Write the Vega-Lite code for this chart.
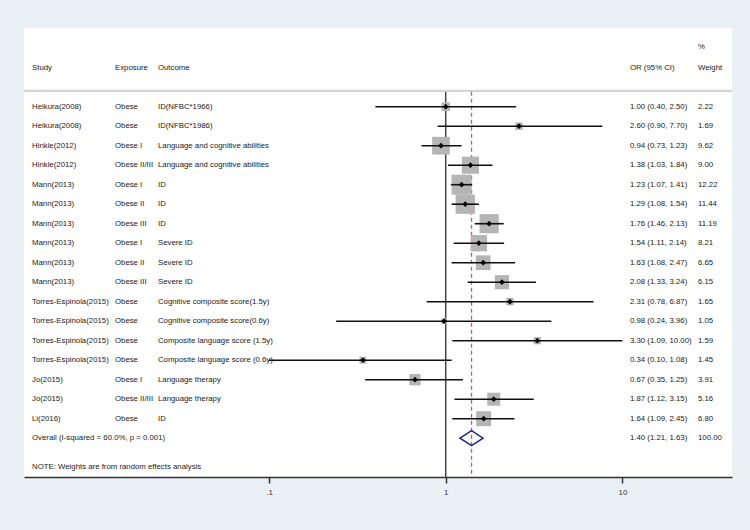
{
  "$schema": "https://vega.github.io/schema/vega-lite/v6.json",
  "autosize": {"type": "none"},
  "width": 708,
  "height": 449,
  "padding": {"left": 24, "top": 28, "right": 18, "bottom": 53},
  "background": "#e9f1f4",
  "view": {"fill": "white", "stroke": null},
  "config": {
    "text": {"font": "Liberation Sans", "fontSize": 7.8, "color": "#222222", "align": "left", "baseline": "middle"},
    "axis": {"labelFont": "Liberation Sans"}
  },
  "datasets": {
    "studies": [
      {"row": 1, "study": "Heikura(2008)", "exposure": "Obese", "outcome": "ID(NFBC*1966)", "or": 1.00, "lo": 0.40, "hi": 2.50, "weight": 2.22},
      {"row": 2, "study": "Heikura(2008)", "exposure": "Obese", "outcome": "ID(NFBC*1986)", "or": 2.60, "lo": 0.90, "hi": 7.70, "weight": 1.69},
      {"row": 3, "study": "Hinkle(2012)", "exposure": "Obese I", "outcome": "Language and cognitive abilities", "or": 0.94, "lo": 0.73, "hi": 1.23, "weight": 9.62},
      {"row": 4, "study": "Hinkle(2012)", "exposure": "Obese II/III", "outcome": "Language and cognitive abilities", "or": 1.38, "lo": 1.03, "hi": 1.84, "weight": 9.00},
      {"row": 5, "study": "Mann(2013)", "exposure": "Obese I", "outcome": "ID", "or": 1.23, "lo": 1.07, "hi": 1.41, "weight": 12.22},
      {"row": 6, "study": "Mann(2013)", "exposure": "Obese II", "outcome": "ID", "or": 1.29, "lo": 1.08, "hi": 1.54, "weight": 11.44},
      {"row": 7, "study": "Mann(2013)", "exposure": "Obese III", "outcome": "ID", "or": 1.76, "lo": 1.46, "hi": 2.13, "weight": 11.19},
      {"row": 8, "study": "Mann(2013)", "exposure": "Obese I", "outcome": "Severe ID", "or": 1.54, "lo": 1.11, "hi": 2.14, "weight": 8.21},
      {"row": 9, "study": "Mann(2013)", "exposure": "Obese II", "outcome": "Severe ID", "or": 1.63, "lo": 1.08, "hi": 2.47, "weight": 6.65},
      {"row": 10, "study": "Mann(2013)", "exposure": "Obese III", "outcome": "Severe ID", "or": 2.08, "lo": 1.33, "hi": 3.24, "weight": 6.15},
      {"row": 11, "study": "Torres-Espinola(2015)", "exposure": "Obese", "outcome": "Cognitive composite score(1.5y)", "or": 2.31, "lo": 0.78, "hi": 6.87, "weight": 1.65},
      {"row": 12, "study": "Torres-Espinola(2015)", "exposure": "Obese", "outcome": "Cognitive composite score(0.6y)", "or": 0.98, "lo": 0.24, "hi": 3.96, "weight": 1.05},
      {"row": 13, "study": "Torres-Espinola(2015)", "exposure": "Obese", "outcome": "Composite language score (1.5y)", "or": 3.30, "lo": 1.09, "hi": 10.00, "weight": 1.59},
      {"row": 14, "study": "Torres-Espinola(2015)", "exposure": "Obese", "outcome": "Composite language score (0.6y)", "or": 0.34, "lo": 0.10, "hi": 1.08, "weight": 1.45},
      {"row": 15, "study": "Jo(2015)", "exposure": "Obese I", "outcome": "Language therapy", "or": 0.67, "lo": 0.35, "hi": 1.25, "weight": 3.91},
      {"row": 16, "study": "Jo(2015)", "exposure": "Obese II/III", "outcome": "Language therapy", "or": 1.87, "lo": 1.12, "hi": 3.15, "weight": 5.16},
      {"row": 17, "study": "Li(2016)", "exposure": "Obese", "outcome": "ID", "or": 1.64, "lo": 1.09, "hi": 2.45, "weight": 6.80}
    ],
    "overall": [
      {"row": 18, "label": "Overall  (I-squared = 60.0%, p = 0.001)", "or": 1.40, "lo": 1.21, "hi": 1.63, "weight": 100.00}
    ],
    "headers": [
      {"row": -1, "column": "study", "text": "Study"},
      {"row": -1, "column": "exposure", "text": "Exposure"},
      {"row": -1, "column": "outcome", "text": "Outcome"},
      {"row": -1, "column": "or", "text": "OR (95% CI)"},
      {"row": -2.05, "column": "weight", "text": "%"},
      {"row": -1, "column": "weight", "text": "Weight"}
    ],
    "separators": [
      {"row": 0.19}
    ],
    "notes": [
      {"row": 19.48, "text": "NOTE: Weights are from random effects analysis"}
    ]
  },
  "layer": [
    {
      "data": {"name": "overall"},
      "mark": {"type": "rule", "color": "#444444", "strokeWidth": 1.5},
      "encoding": {
        "x": {"datum": 1, "type": "quantitative", "scale": {"type": "log", "domain": [0.004107, 41.7], "nice": false},
              "axis": {"values": [0.1, 1, 10], "labelExpr": "datum.value < 1 ? '.1' : format(datum.value, 'd')", "title": null, "grid": false,
                       "domainColor": "#333333", "domainWidth": 1.5, "tickColor": "#333333", "tickWidth": 1.5, "tickSize": 6,
                       "labelFontSize": 7.8, "labelColor": "#333333", "labelPadding": 5}},
        "y": {"datum": 0.23, "type": "quantitative", "scale": {"domain": [-3.036, 19.99], "reverse": true, "nice": false, "zero": false}, "axis": null},
        "y2": {"datum": 19.99}
      }
    },
    {
      "data": {"name": "separators"},
      "mark": {"type": "rule", "color": "#d4d4d4", "strokeWidth": 2.2},
      "encoding": {
        "x": {"datum": 0.004107, "type": "quantitative"},
        "x2": {"datum": 41.7},
        "y": {"field": "row", "type": "quantitative"}
      }
    },
    {
      "data": {"name": "overall"},
      "mark": {"type": "rule", "color": "#b8606e", "strokeWidth": 1.3, "strokeDash": [4, 3]},
      "encoding": {
        "x": {"field": "or", "type": "quantitative"},
        "y": {"datum": 0.23, "type": "quantitative"},
        "y2": {"datum": 19.99}
      }
    },
    {
      "data": {"name": "studies"},
      "mark": {"type": "point", "shape": "square", "filled": true, "color": "#b5b5b5", "opacity": 1},
      "encoding": {
        "x": {"field": "or", "type": "quantitative"},
        "y": {"field": "row", "type": "quantitative"},
        "size": {"field": "weight", "type": "quantitative", "scale": {"type": "linear", "domain": [0, 12.22], "range": [0, 400], "zero": true}, "legend": null}
      }
    },
    {
      "data": {"name": "studies"},
      "mark": {"type": "rule", "color": "#111111", "strokeWidth": 1.6},
      "encoding": {
        "x": {"field": "lo", "type": "quantitative"},
        "x2": {"field": "hi"},
        "y": {"field": "row", "type": "quantitative"}
      }
    },
    {
      "data": {"name": "studies"},
      "mark": {"type": "point", "shape": "diamond", "filled": true, "color": "#000000", "size": 32, "opacity": 1},
      "encoding": {
        "x": {"field": "or", "type": "quantitative"},
        "y": {"field": "row", "type": "quantitative"}
      }
    },
    {
      "data": {"name": "overall"},
      "mark": {"type": "point", "shape": "M-1,0L0,-0.65L1,0L0,0.65Z", "filled": false, "color": "#1f2a8a", "strokeWidth": 1.5, "size": 529, "opacity": 1},
      "encoding": {
        "x": {"field": "or", "type": "quantitative"},
        "y": {"field": "row", "type": "quantitative"}
      }
    },
    {
      "data": {"name": "studies"},
      "mark": {"type": "text"},
      "encoding": {
        "x": {"datum": 0.00456, "type": "quantitative"},
        "y": {"field": "row", "type": "quantitative"},
        "text": {"field": "study"}
      }
    },
    {
      "data": {"name": "studies"},
      "mark": {"type": "text"},
      "encoding": {
        "x": {"datum": 0.01344, "type": "quantitative"},
        "y": {"field": "row", "type": "quantitative"},
        "text": {"field": "exposure"}
      }
    },
    {
      "data": {"name": "studies"},
      "mark": {"type": "text"},
      "encoding": {
        "x": {"datum": 0.02353, "type": "quantitative"},
        "y": {"field": "row", "type": "quantitative"},
        "text": {"field": "outcome"}
      }
    },
    {
      "data": {"name": "studies"},
      "transform": [{"calculate": "format(datum.or, '.2f') + ' (' + format(datum.lo, '.2f') + ', ' + format(datum.hi, '.2f') + ')'", "as": "ci"}],
      "mark": {"type": "text"},
      "encoding": {
        "x": {"datum": 11.04, "type": "quantitative"},
        "y": {"field": "row", "type": "quantitative"},
        "text": {"field": "ci"}
      }
    },
    {
      "data": {"name": "studies"},
      "mark": {"type": "text"},
      "encoding": {
        "x": {"datum": 26.78, "type": "quantitative"},
        "y": {"field": "row", "type": "quantitative"},
        "text": {"field": "weight", "format": ".2f"}
      }
    },
    {
      "data": {"name": "overall"},
      "mark": {"type": "text"},
      "encoding": {
        "x": {"datum": 0.00456, "type": "quantitative"},
        "y": {"field": "row", "type": "quantitative"},
        "text": {"field": "label"}
      }
    },
    {
      "data": {"name": "overall"},
      "transform": [{"calculate": "format(datum.or, '.2f') + ' (' + format(datum.lo, '.2f') + ', ' + format(datum.hi, '.2f') + ')'", "as": "ci"}],
      "mark": {"type": "text"},
      "encoding": {
        "x": {"datum": 11.04, "type": "quantitative"},
        "y": {"field": "row", "type": "quantitative"},
        "text": {"field": "ci"}
      }
    },
    {
      "data": {"name": "overall"},
      "mark": {"type": "text"},
      "encoding": {
        "x": {"datum": 26.78, "type": "quantitative"},
        "y": {"field": "row", "type": "quantitative"},
        "text": {"field": "weight", "format": ".2f"}
      }
    },
    {
      "data": {"name": "notes"},
      "mark": {"type": "text"},
      "encoding": {
        "x": {"datum": 0.00456, "type": "quantitative"},
        "y": {"field": "row", "type": "quantitative"},
        "text": {"field": "text"}
      }
    },
    {
      "data": {"name": "headers"},
      "transform": [{"filter": "datum.column == 'study'"}],
      "mark": {"type": "text"},
      "encoding": {
        "x": {"datum": 0.00456, "type": "quantitative"},
        "y": {"field": "row", "type": "quantitative"},
        "text": {"field": "text"}
      }
    },
    {
      "data": {"name": "headers"},
      "transform": [{"filter": "datum.column == 'exposure'"}],
      "mark": {"type": "text"},
      "encoding": {
        "x": {"datum": 0.01344, "type": "quantitative"},
        "y": {"field": "row", "type": "quantitative"},
        "text": {"field": "text"}
      }
    },
    {
      "data": {"name": "headers"},
      "transform": [{"filter": "datum.column == 'outcome'"}],
      "mark": {"type": "text"},
      "encoding": {
        "x": {"datum": 0.02353, "type": "quantitative"},
        "y": {"field": "row", "type": "quantitative"},
        "text": {"field": "text"}
      }
    },
    {
      "data": {"name": "headers"},
      "transform": [{"filter": "datum.column == 'or'"}],
      "mark": {"type": "text"},
      "encoding": {
        "x": {"datum": 11.04, "type": "quantitative"},
        "y": {"field": "row", "type": "quantitative"},
        "text": {"field": "text"}
      }
    },
    {
      "data": {"name": "headers"},
      "transform": [{"filter": "datum.column == 'weight'"}],
      "mark": {"type": "text"},
      "encoding": {
        "x": {"datum": 26.78, "type": "quantitative"},
        "y": {"field": "row", "type": "quantitative"},
        "text": {"field": "text"}
      }
    }
  ]
}
